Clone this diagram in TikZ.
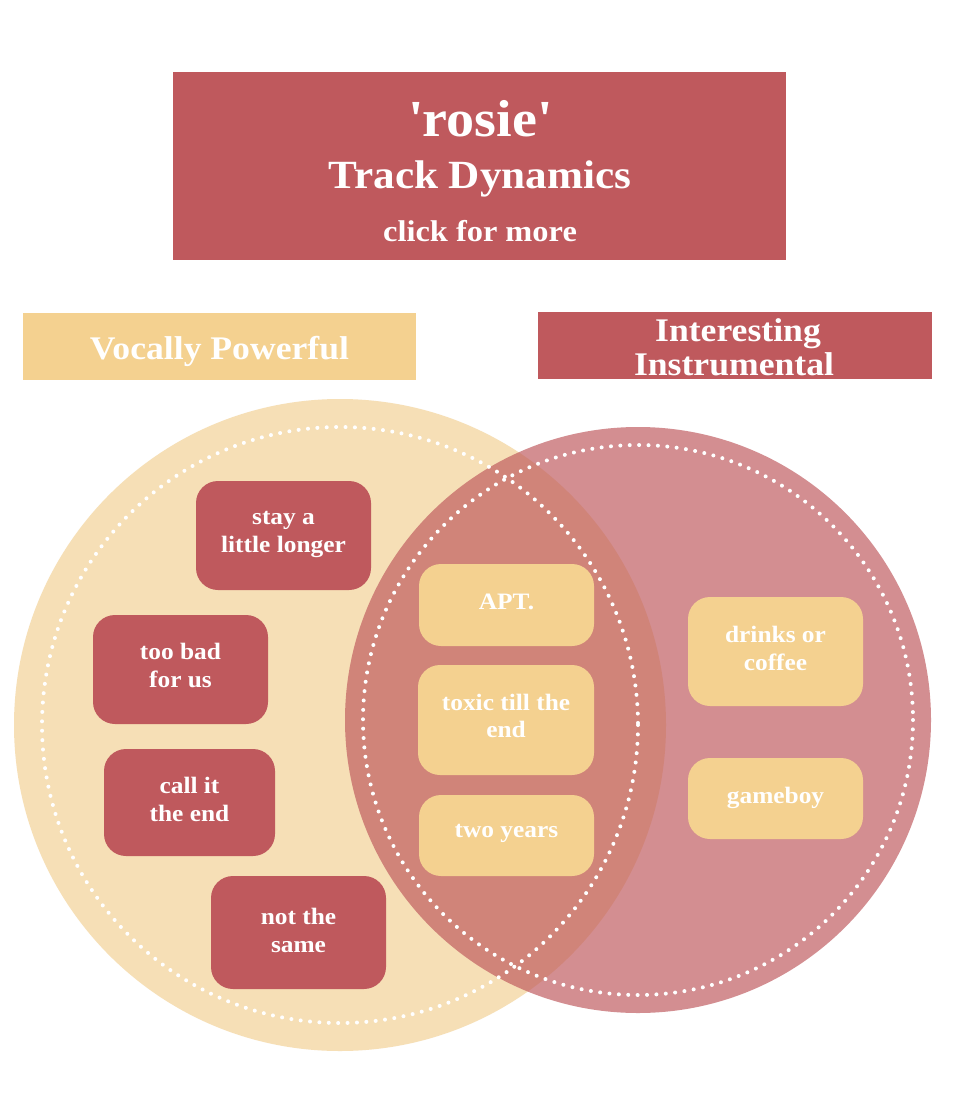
\documentclass[tikz,border=0pt]{standalone}
\usepackage{fontspec}
\setmainfont[FakeStretch=1.08]{Liberation Serif}
\definecolor{rosered}{HTML}{BF595D}
\definecolor{sand}{HTML}{F4D190}
\definecolor{sandlight}{HTML}{F6DFB6}
\newcommand{\fs}[2]{\fontsize{#1}{#2}\selectfont}
\begin{document}
\begin{tikzpicture}[x=1pt,y=-1pt,
  redrect/.style={fill=rosered,draw=none,inner sep=0pt},
  sandrect/.style={fill=sand,draw=none,inner sep=0pt},
  pill/.style={rounded corners=22pt,minimum width=175pt,inner sep=0pt},
  redpill/.style={pill,fill=rosered},
  sandpill/.style={pill,fill=sand},
  wtxt/.style={text=white,font=\bfseries\fs{23.5}{27.5},align=center,inner sep=0pt},
  dots/.style={draw=white,line width=4pt,line cap=round,dash pattern=on 0pt off 9.4pt}
]
\useasboundingbox (0,0) rectangle (960,1102);
\fill[white] (0,0) rectangle (960,1102);

% header
\node[redrect,minimum width=613pt,minimum height=188pt] (hdr) at (479.5,166) {};
\node[text=white,font=\bfseries\fs{52}{56},anchor=base,inner sep=0pt] (t1) at (480,137) {\textquotesingle rosie\textquotesingle};
\node[text=white,font=\bfseries\fs{40}{44},anchor=base,inner sep=0pt] (t2) at (480,189) {Track Dynamics};
\node[text=white,font=\bfseries\fs{30}{34},anchor=base,inner sep=0pt] (t3) at (480,241) {click for more};

% set titles
\node[sandrect,minimum width=393pt,minimum height=67pt] (vp) at (219.5,346.5) {};
\node[text=white,font=\bfseries\fs{33}{36},anchor=base,inner sep=0pt] (vpt) at (219.5,359) {Vocally Powerful};
\node[redrect,minimum width=394pt,minimum height=67pt] (ii) at (735,345.5) {};
\node[text=white,font=\bfseries\fs{33}{36},anchor=base,inner sep=0pt] (ii1) at (738,341) {Interesting};
\node[text=white,font=\bfseries\fs{33}{36},anchor=base,inner sep=0pt] (ii2) at (734,375) {Instrumental};

% circles
\fill[sandlight] (340,725) circle[radius=326];
\fill[rosered,fill opacity=0.68] (638,720) circle[radius=293];
\draw[dots] (340,725) circle[radius=298];
\draw[dots] (638,720) circle[radius=275];

% left items
\node[redpill,minimum height=109pt,label={[wtxt,yshift=1pt]center:stay a\\little longer}] (stay) at (283.5,535.5) {};
\node[redpill,minimum height=109pt,label={[wtxt,yshift=4pt]center:too bad\\for us}] (toobad) at (180.5,669.5) {};
\node[redpill,minimum width=171pt,minimum height=107pt,label={[wtxt,yshift=3pt]center:call it\\the end}] (callit) at (189.5,802.5) {};
\node[redpill,minimum height=113pt,label={[wtxt,yshift=2pt]center:not the\\same}] (notsame) at (298.5,932.5) {};

% middle items
\node[sandpill,minimum height=82pt,label={[wtxt,yshift=3pt]center:APT.}] (apt) at (506.5,605) {};
\node[sandpill,minimum width=176pt,minimum height=110pt,label={[wtxt,yshift=4pt]center:toxic till the\\end}] (toxic) at (506,720) {};
\node[sandpill,minimum height=81pt,label={[wtxt,yshift=2pt]center:two years}] (two) at (506.5,835.5) {};

% right items
\node[sandpill,minimum height=109pt,label={[wtxt,yshift=3pt]center:drinks or\\coffee}] (drinks) at (775.5,651.5) {};
\node[sandpill,minimum height=81pt,label={[wtxt,yshift=1pt]center:gameboy}] (gameboy) at (775.5,798.5) {};
\end{tikzpicture}
\end{document}
